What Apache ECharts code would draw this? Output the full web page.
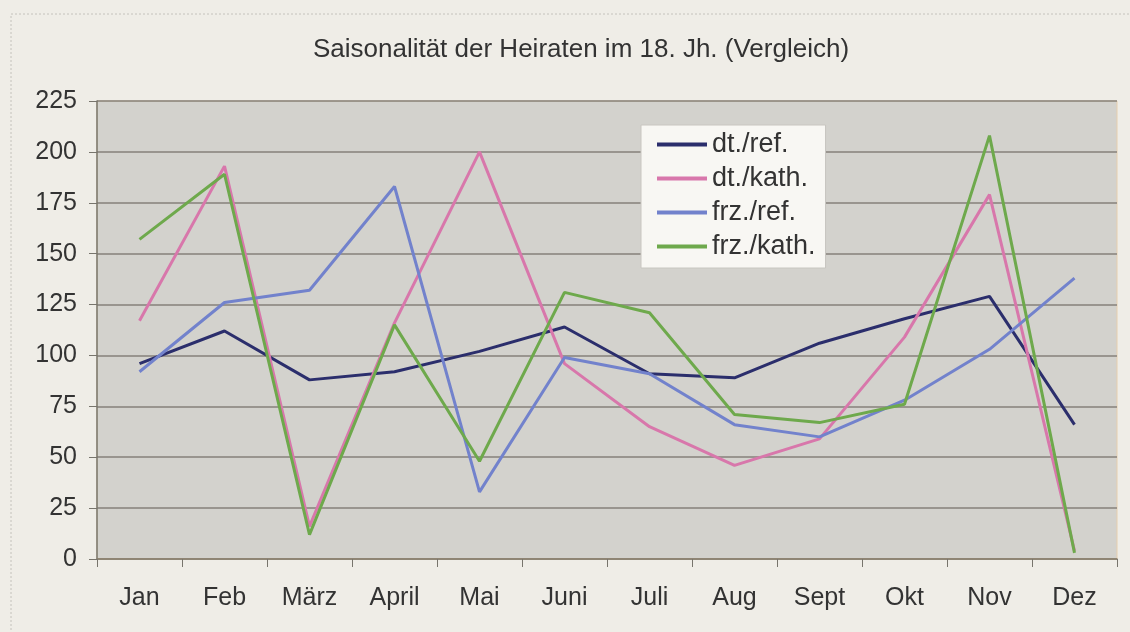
<!DOCTYPE html>
<html>
<head>
<meta charset="utf-8">
<script src="https://cdn.jsdelivr.net/npm/echarts@6/dist/echarts.min.js"></script>
<style>
  html, body { margin: 0; padding: 0; background: #efede7; }
  #chart { width: 1130px; height: 632px; }
</style>
</head>
<body>
<div id="chart"></div>
<script>
// Monate
const months = ['Jan', 'Feb', 'März', 'April', 'Mai', 'Juni', 'Juli', 'Aug', 'Sept', 'Okt', 'Nov', 'Dez']
const yTicks = [0, 25, 50, 75, 100, 125, 150, 175, 200, 225]

// Werte
const dtRef = [96, 112, 88, 92, 102, 114, 91, 89, 106, 118, 129, 66]
const dtKath = [117, 193, 16, 116, 200, 96, 65, 46, 59, 109, 179, 4]
const frzRef = [92, 126, 132, 183, 33, 99, 91, 66, 60, 78, 103, 138]
const frzKath = [157, 189, 12, 115, 48, 131, 121, 71, 67, 76, 208, 3]

const seriesNames = ['dt./ref.', 'dt./kath.', 'frz./ref.', 'frz./kath.']
const seriesColors = ['#2b2e6c', '#d877ab', '#7282cc', '#6ea94c']

const font = 'Liberation Sans, Arial, sans-serif'
const chart = echarts.init(document.getElementById('chart'))

function line(name, data, color) {
  return {
    name: name,
    type: 'line',
    data: data,
    showSymbol: false,
    symbol: 'none',
    lineStyle: { color: color, width: 3 },
    itemStyle: { color: color },
    emphasis: { disabled: true },
    z: 3
  }
}

const option = {
  backgroundColor: '#efede7',
  animation: false,
  textStyle: { fontFamily: font },
  title: {
    text: 'Saisonalität der Heiraten im 18. Jh. (Vergleich)',
    left: 576,
    top: 32,
    textAlign: 'center',
    textStyle: { fontSize: 26, fontWeight: 'normal', color: '#333', fontFamily: font }
  },
  graphic: [
    {
      type: 'rect',
      shape: { x: 11, y: 14, width: 1130, height: 640 },
      style: { fill: 'none', stroke: '#c4c2bc', lineWidth: 1, lineDash: [2, 2] },
      silent: true
    }
  ],
  legend: {
    orient: 'vertical',
    left: 641,
    top: 125,
    padding: [6, 10, 8, 16],
    backgroundColor: '#f8f7f3',
    borderColor: '#c8c6c0',
    borderWidth: 1,
    itemWidth: 50,
    itemHeight: 4,
    itemGap: 7,
    icon: 'rect',
    data: seriesNames,
    textStyle: { fontSize: 27, color: '#333', fontFamily: font }
  },
  grid: {
    left: 97,
    right: 13,
    top: 101,
    bottom: 73,
    show: true,
    backgroundColor: '#d3d2cd',
    borderColor: '#e6cfae',
    borderWidth: 1
  },
  xAxis: {
    type: 'category',
    data: months,
    boundaryGap: true,
    axisLine: { show: true, lineStyle: { color: '#8b806e', width: 1.5 } },
    axisTick: { show: true, inside: false, length: 8, alignWithLabel: false, lineStyle: { color: '#77746c' } },
    axisLabel: { fontSize: 25, color: '#333', margin: 27 },
    splitLine: { show: false }
  },
  yAxis: {
    type: 'value',
    min: yTicks[0],
    max: yTicks[yTicks.length - 1],
    interval: 25,
    axisLine: { show: true, lineStyle: { color: '#77746c', width: 1.5 } },
    axisTick: { show: true, inside: false, length: 8, lineStyle: { color: '#77746c' } },
    axisLabel: { fontSize: 25, color: '#333', margin: 20 },
    splitLine: { show: true, lineStyle: { color: '#86807a', width: 1.5 } }
  },
  series: [
    line(seriesNames[0], dtRef, seriesColors[0]),
    line(seriesNames[1], dtKath, seriesColors[1]),
    line(seriesNames[2], frzRef, seriesColors[2]),
    line(seriesNames[3], frzKath, seriesColors[3])
  ]
}

chart.setOption(option)
</script>
</body>
</html>
